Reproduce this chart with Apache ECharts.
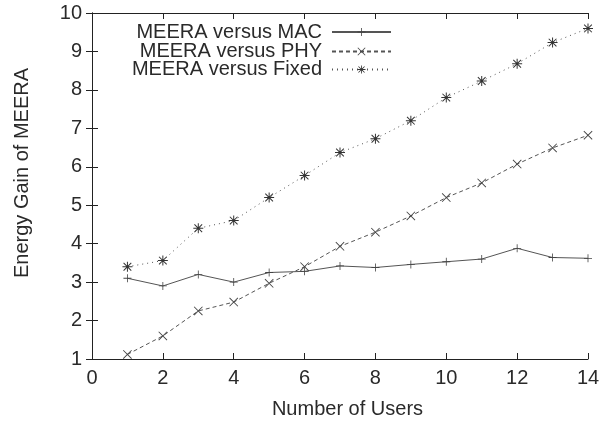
<!DOCTYPE html>
<html><head><meta charset="utf-8">
<script src="https://cdn.jsdelivr.net/npm/echarts@6/dist/echarts.min.js"></script>
<style>html,body{margin:0;padding:0;background:#fff}#c{width:610px;height:424px}</style>
</head><body><div id="c"></div>
<script>
var users = [1,2,3,4,5,6,7,8,9,10,11,12,13,14];
var macGain = [3.1, 2.9, 3.2, 3.0, 3.25, 3.28, 3.42, 3.38, 3.46, 3.53, 3.6, 3.88, 3.64, 3.62];
var phyGain = [1.12, 1.6, 2.25, 2.48, 2.97, 3.4, 3.93, 4.3, 4.72, 5.2, 5.58, 6.07, 6.49, 6.82];
var fixedGain = [3.4, 3.56, 4.4, 4.6, 5.2, 5.77, 6.37, 6.73, 7.2, 7.8, 8.23, 8.68, 9.23, 9.6];
var seriesNames = ['MEERA versus MAC', 'MEERA versus PHY', 'MEERA versus Fixed'];

var plus = 'path://M0,4.5L10,4.5L10,5.5L0,5.5Z M4.5,0L5.5,0L5.5,10L4.5,10Z';
var cross = 'path://M0.7,0L10,9.3L9.3,10L0,0.7Z M9.3,0L10,0.7L0.7,10L0,9.3Z';
var star = 'path://M0,4.5L10,4.5L10,5.5L0,5.5Z M4.5,0L5.5,0L5.5,10L4.5,10Z M1.5,0.8L9.2,8.5L8.5,9.2L0.8,1.5Z M8.5,0.8L9.2,1.5L1.5,9.2L0.8,8.5Z';

function pairs(v){ return users.map(function(u,i){ return [u, v[i]]; }); }
var font = 'Liberation Sans, Arial, sans-serif';
var col = '#2a2a2a';
var fs = 20;
var chart = echarts.init(document.getElementById('c'));
function leg(name, top){
  return { data:[name], right:218, top:top, orient:'vertical', align:'right',
    itemWidth:59, itemHeight:10, itemGap:4, padding:0,
    textStyle:{ fontFamily:font, fontSize:fs, color:col, padding:[0,5,0,0] } };
}
var tick = { show:true, inside:true, length:6, lineStyle:{ color:'#222' } };
var line = { show:true, lineStyle:{ color:'#222', width:1 } };
chart.setOption({
  animation:false,
  backgroundColor:'#fff',
  legend:[leg(seriesNames[0], 22), leg(seriesNames[1], 41.5), leg(seriesNames[2], 59.5)],
  grid:{ left:92, right:22, top:13, bottom:63 },
  xAxis:[{
    type:'value', min:0, max:14, interval:2,
    name:'Number of Users', nameLocation:'middle', nameGap:40,
    nameTextStyle:{ fontFamily:font, fontSize:fs, color:col, padding:[0,0,0,15] },
    axisLine:line, axisTick:tick,
    axisLabel:{ fontFamily:font, fontSize:fs, color:col, margin:9 },
    splitLine:{ show:false }
  },{
    type:'value', position:'top', min:0, max:14, interval:2,
    axisLine:line, axisTick:tick,
    axisLabel:{ show:false }, splitLine:{ show:false }
  }],
  yAxis:[{
    type:'value', min:1, max:10, interval:1,
    name:'Energy Gain of MEERA', nameLocation:'middle', nameGap:60,
    nameTextStyle:{ fontFamily:font, fontSize:fs, color:col, padding:[0,0,0,26] },
    axisLine:line, axisTick:tick,
    axisLabel:{ fontFamily:font, fontSize:fs, color:col, margin:10 },
    splitLine:{ show:false }
  },{
    type:'value', position:'right', min:1, max:10, interval:1,
    axisLine:line, axisTick:tick,
    axisLabel:{ show:false }, splitLine:{ show:false }
  }],
  series:[
    { name:seriesNames[0], type:'line', data:pairs(macGain), symbol:plus, symbolSize:8,
      lineStyle:{ color:'#555', width:1, type:'solid' }, itemStyle:{ color:'#444' } },
    { name:seriesNames[1], type:'line', data:pairs(phyGain), symbol:cross, symbolSize:9,
      lineStyle:{ color:'#555', width:1, type:[4,3] }, itemStyle:{ color:'#444' } },
    { name:seriesNames[2], type:'line', data:pairs(fixedGain), symbol:star, symbolSize:10,
      lineStyle:{ color:'#555', width:1, type:[1,4] }, itemStyle:{ color:'#333' } }
  ]
});
</script></body></html>
